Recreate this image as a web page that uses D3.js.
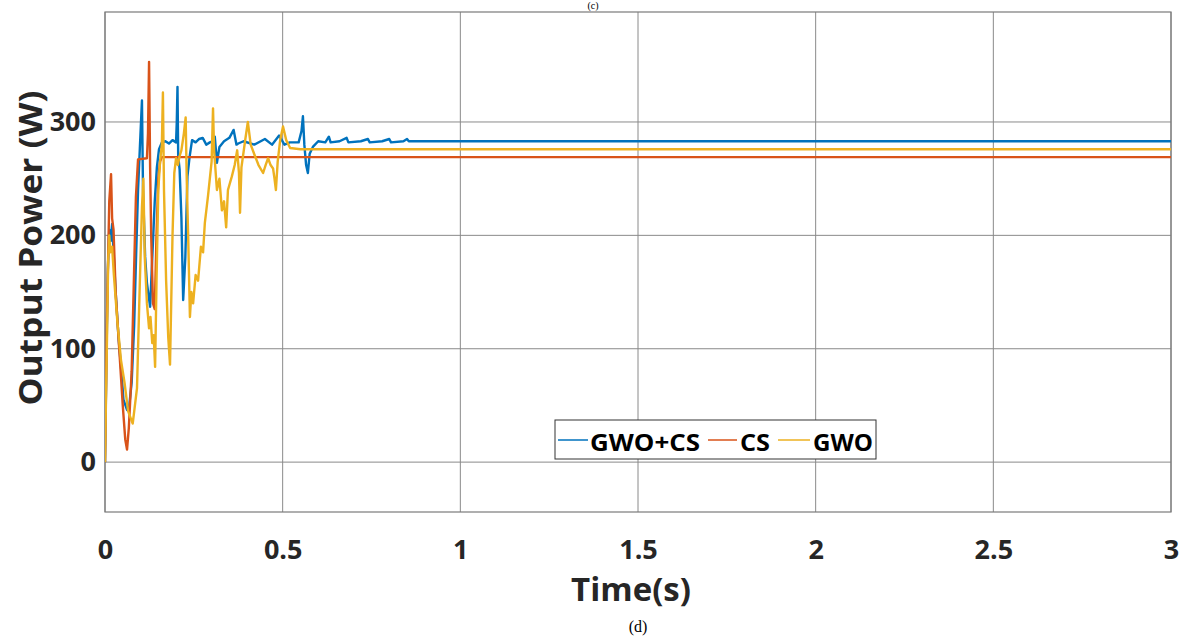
<!DOCTYPE html>
<html>
<head>
<meta charset="utf-8">
<script src="https://cdn.jsdelivr.net/npm/d3@7"></script>
<style>
  body { margin: 0; background: #fff; }
  svg { display: block; }
  text { font-family: "Open Sans", "DejaVu Sans", sans-serif; }
</style>
</head>
<body>
<svg id="chart" width="1185" height="638"></svg>
<script>
// axis ticks
var xTicks = [0, 0.5, 1, 1.5, 2, 2.5, 3];
var yTicks = [0, 100, 200, 300];
var seriesNames = ["GWO+CS", "CS", "GWO"];
var seriesColors = ["#0072BD", "#D95319", "#EDB120"];

// GWO+CS (blue)
var gwoCsT = [0, 0.004, 0.008, 0.012, 0.016, 0.02, 0.025, 0.03, 0.038, 0.045, 0.052, 0.062, 0.068, 0.075, 0.082, 0.088,
  0.093, 0.0985, 0.104, 0.107, 0.113, 0.118, 0.127, 0.133, 0.14, 0.146, 0.152, 0.16, 0.17, 0.18, 0.19, 0.2, 0.202, 0.204,
  0.206, 0.21, 0.215, 0.22, 0.226, 0.232, 0.238, 0.245, 0.255, 0.265, 0.275, 0.285, 0.295, 0.304, 0.309, 0.315, 0.322,
  0.335, 0.35, 0.362, 0.37, 0.375, 0.39, 0.42, 0.45, 0.47, 0.49, 0.505, 0.52, 0.545, 0.553, 0.557, 0.561, 0.566, 0.571,
  0.576, 0.585, 0.6, 0.62, 0.63, 0.635, 0.66, 0.68, 0.685, 0.72, 0.74, 0.745, 0.78, 0.8, 0.805, 0.84, 0.85, 0.855, 3];
var gwoCsP = [0, 90, 170, 205, 195, 210, 180, 150, 110, 84, 55, 46, 49, 70, 120, 187,
  240, 280, 319, 240, 181, 158, 137, 180, 230, 260, 276, 282, 283, 281, 284, 282, 300, 331,
  270, 258, 216, 143, 180, 252, 269, 284, 282, 285, 286, 280, 282, 283, 287, 264, 278,
  283, 286, 293, 280, 281, 283, 280, 285, 280, 288, 280, 282, 282, 292, 305, 280, 262, 255,
  272, 278, 283, 282, 287, 282, 283, 286, 282, 283, 285, 282, 283, 285, 282, 283, 285, 283, 283];

// CS (orange)
var csT = [0, 0.005, 0.012, 0.017, 0.02, 0.024, 0.03, 0.04, 0.05, 0.057, 0.062, 0.067, 0.075, 0.082, 0.087, 0.093,
  0.118, 0.121, 0.124, 0.127, 0.13, 0.135, 0.14, 0.145, 0.15, 0.155, 0.16, 3];
var csP = [0, 120, 230, 254, 215, 205, 150, 100, 50, 20, 11, 30, 80, 170, 234, 267,
  268, 290, 353, 260, 200, 140, 135, 200, 250, 265, 269, 269];

// GWO (yellow)
var gwoT = [0, 0.003, 0.006, 0.009, 0.012, 0.015, 0.02, 0.025, 0.035, 0.045, 0.055, 0.065, 0.078, 0.09, 0.098, 0.104,
  0.108, 0.112, 0.118, 0.124, 0.128, 0.133, 0.137, 0.141, 0.145, 0.15, 0.155, 0.16, 0.163, 0.166, 0.172, 0.178, 0.183,
  0.19, 0.195, 0.2, 0.205, 0.21, 0.215, 0.222, 0.227, 0.23, 0.234, 0.239, 0.243, 0.248, 0.255, 0.262, 0.27, 0.276, 0.281,
  0.29, 0.3, 0.304, 0.307, 0.315, 0.322, 0.329, 0.335, 0.341, 0.346, 0.357, 0.365, 0.372, 0.377, 0.38, 0.384, 0.395,
  0.402, 0.41, 0.422, 0.432, 0.445, 0.452, 0.459, 0.466, 0.473, 0.477, 0.481, 0.486, 0.493, 0.501, 0.51, 0.521, 0.55, 3];
var gwoP = [0, 60, 116, 178, 200, 185, 190, 165, 123, 90, 70, 45, 34, 65, 158, 225,
  250, 180, 140, 118, 128, 105, 112, 84, 160, 240, 265, 280, 326, 240, 160, 110, 86,
  200, 255, 268, 262, 270, 275, 290, 304, 250, 200, 128, 150, 140, 165, 160, 190, 185, 211,
  235, 265, 312, 275, 240, 250, 222, 230, 207, 240, 252, 262, 275, 255, 220, 260, 285,
  300, 280, 270, 262, 255, 262, 268, 262, 259, 250, 240, 265, 284, 296, 284, 277, 276, 276];

var svg = d3.select("#chart");
var margin = {left: 105, right: 14, top: 12, bottom: 126};
var width = 1185 - margin.left - margin.right,
    height = 638 - margin.top - margin.bottom;

var x = d3.scaleLinear().domain([0, 3]).range([0, width]);
var y = d3.scaleLinear().domain([-44, 397]).range([height, 0]);

var g = svg.append("g").attr("transform", "translate(" + margin.left + "," + margin.top + ")");

// grid
g.append("g").selectAll("line").data(xTicks).enter().append("line")
  .attr("x1", d => x(d)).attr("x2", d => x(d)).attr("y1", 0).attr("y2", height)
  .attr("stroke", "#8a8a8a").attr("stroke-width", 1);
g.append("g").selectAll("line").data(yTicks).enter().append("line")
  .attr("y1", d => y(d)).attr("y2", d => y(d)).attr("x1", 0).attr("x2", width)
  .attr("stroke", "#8a8a8a").attr("stroke-width", 1);

// box
g.append("rect").attr("width", width).attr("height", height)
  .attr("fill", "none").attr("stroke", "#7a7a7a").attr("stroke-width", 1.2);

// tick labels
var xAxis = g.append("g").attr("transform", "translate(0," + height + ")")
  .call(d3.axisBottom(x).tickValues(xTicks).tickSize(0).tickPadding(28).tickFormat(d3.format("")));
var yAxis = g.append("g")
  .call(d3.axisLeft(y).tickValues(yTicks).tickSize(0).tickPadding(9));
[xAxis, yAxis].forEach(function (a) {
  a.select(".domain").remove();
  a.selectAll("text").attr("font-family", "'Open Sans', sans-serif")
    .attr("font-size", 27).attr("font-weight", "bold").attr("fill", "#262626");
});

// lines
svg.append("clipPath").attr("id", "clip").append("rect").attr("width", width).attr("height", height);
var line = d3.line().x(d => x(d[0])).y(d => y(d[1]));
var series = [d3.zip(gwoCsT, gwoCsP), d3.zip(csT, csP), d3.zip(gwoT, gwoP)];
var lg = g.append("g").attr("clip-path", "url(#clip)");
series.forEach(function (s, i) {
  lg.append("path").datum(s).attr("d", line)
    .attr("fill", "none").attr("stroke", seriesColors[i]).attr("stroke-width", 2.4)
    .attr("stroke-linejoin", "round");
});

// axis titles
svg.append("text").attr("x", 631).attr("y", 601).attr("text-anchor", "middle")
  .attr("font-size", 33).attr("font-weight", "bold").attr("fill", "#262626").text("Time(s)");
svg.append("text").attr("transform", "translate(42,248) rotate(-90)").attr("text-anchor", "middle")
  .attr("font-size", 33).attr("font-weight", "bold").attr("fill", "#262626")
  .attr("textLength", 315).attr("lengthAdjust", "spacingAndGlyphs").text("Output Power (W)");

// legend
var leg = svg.append("g");
leg.append("rect").attr("x", 555).attr("y", 420).attr("width", 321).attr("height", 39)
  .attr("fill", "#fff").attr("stroke", "#333").attr("stroke-width", 1);
var legX = [[558, 588, 590, 110], [708, 737, 740, 30], [778, 810, 813, 60]];
seriesNames.forEach(function (n, i) {
  leg.append("line").attr("x1", legX[i][0]).attr("x2", legX[i][1]).attr("y1", 440).attr("y2", 440)
    .attr("stroke", seriesColors[i]).attr("stroke-width", 1.5);
  leg.append("text").attr("x", legX[i][2]).attr("y", 451).attr("font-size", 23).attr("font-weight", "bold")
    .attr("fill", "#000").attr("textLength", legX[i][3]).attr("lengthAdjust", "spacingAndGlyphs").text(n);
});

// subfigure captions
svg.append("text").attr("x", 638).attr("y", 632).attr("text-anchor", "middle")
  .style("font-family", "'Liberation Serif', serif").attr("font-size", 16).text("(d)");
svg.append("text").attr("x", 593).attr("y", 9).attr("text-anchor", "middle")
  .style("font-family", "'Liberation Serif', serif").attr("font-size", 10).text("(c)");
</script>
</body>
</html>
